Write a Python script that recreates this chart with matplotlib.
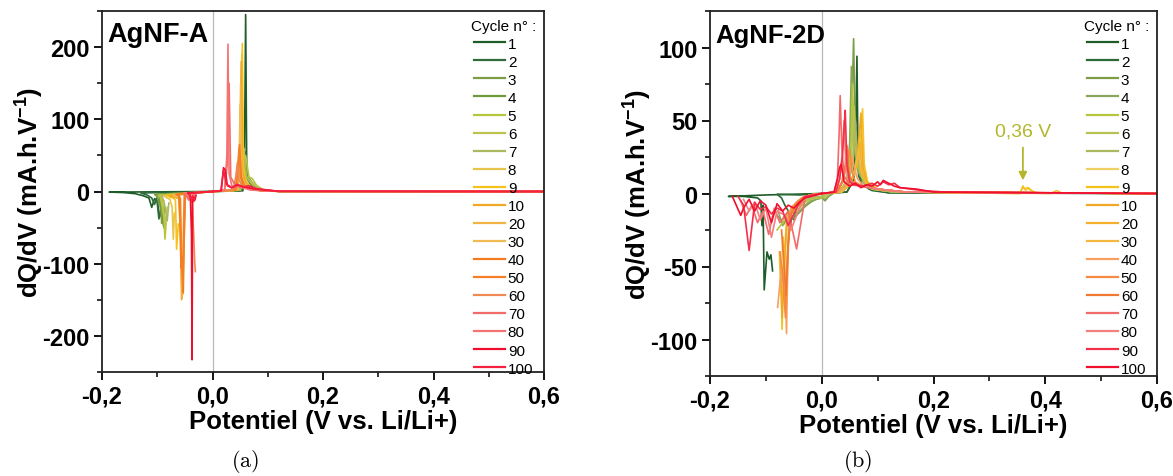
import numpy as np
import matplotlib
matplotlib.use('Agg')
import matplotlib.pyplot as plt
from matplotlib.ticker import MultipleLocator

plt.rcParams['font.family'] = ['Liberation Sans', 'DejaVu Sans']
plt.rcParams['font.weight'] = 'bold'
plt.rcParams['mathtext.fontset'] = 'custom'
plt.rcParams['mathtext.rm'] = 'Liberation Sans:bold'
plt.rcParams['mathtext.bf'] = 'Liberation Sans:bold'

# ---------------- data ----------------
cycles = [1, 2, 3, 4, 5, 6, 7, 8, 9, 10, 20, 30, 40, 50, 60, 70, 80, 90, 100]

colors_a = ['#1e5c2a', '#2f6b3b', '#7d9d45', '#6f9a3a', '#b6c63c', '#bcc44e', '#aab960',
            '#e9c44c', '#f3c31c', '#f1a825', '#f2b347', '#f0bb55', '#f47a20', '#f57f28',
            '#f08a55', '#f36a6a', '#f47474', '#f10d2e', '#f4223f']
colors_b = ['#1e5c2a', '#2a6a38', '#7d9d45', '#8aa85c', '#b6c63c', '#b8c250', '#aab960',
            '#f0d060', '#f3c31c', '#f1a825', '#f3b02a', '#f2b840', '#f7a060', '#f58a40',
            '#f07830', '#f36a6a', '#f47f7f', '#f3304a', '#f0102e']

# Panel (a) AgNF-A : discharge (negative) branches
a_dis_x = [
    [0.0, -0.10, -0.187, -0.16, -0.14, -0.125, -0.115, -0.110, -0.105, -0.100, -0.096, -0.093, -0.090, -0.087],
    [0.0, -0.05, -0.13, -0.118, -0.11, -0.105, -0.101, -0.097, -0.094, -0.09],
    [0.0, -0.05, -0.105, -0.100, -0.097, -0.094, -0.092, -0.090, -0.088],
    [0.0, -0.05, -0.100, -0.097, -0.094, -0.091, -0.089, -0.087],
    [0.0, -0.05, -0.098, -0.094, -0.091, -0.088, -0.086, -0.084],
    [0.0, -0.05, -0.095, -0.091, -0.088, -0.085, -0.082],
    [0.0, -0.05, -0.092, -0.088, -0.085, -0.082, -0.079],
    [0.0, -0.04, -0.088, -0.082, -0.077, -0.073, -0.071, -0.069],
    [0.0, -0.04, -0.083, -0.077, -0.071, -0.067, -0.065, -0.062],
    [0.0, -0.03, -0.078, -0.068, -0.061, -0.058, -0.056, -0.054, -0.052, -0.050],
    [0.0, -0.03, -0.072, -0.064, -0.059, -0.057, -0.055, -0.052, -0.049],
    [0.0, -0.03, -0.070, -0.061, -0.058, -0.055, -0.053, -0.050],
    [0.0, -0.03, -0.066, -0.061, -0.059, -0.057, -0.055, -0.053, -0.051],
    [0.0, -0.03, -0.062, -0.058, -0.056, -0.054, -0.051, -0.049],
    [0.0, -0.02, -0.050, -0.045, -0.040, -0.037, -0.034, -0.032, -0.031],
    [0.0, -0.02, -0.050, -0.046, -0.043, -0.040, -0.038, -0.035],
    [0.0, -0.02, -0.048, -0.044, -0.041, -0.039, -0.036, -0.033],
    [0.0, -0.02, -0.045, -0.042, -0.040, -0.038, -0.037, -0.036, -0.034, -0.032, -0.030],
    [0.0, -0.02, -0.042, -0.039, -0.036, -0.034, -0.032, -0.030],
]
a_dis_y = [
    [0, -0.5, -0.8, -1.5, -3, -6, -9, -22, -10, -12, -36, -28, -32, -37],
    [0, -1, -2, -5, -9, -18, -9, -38, -26, -34],
    [0, -2, -4, -7, -16, -11, -44, -30, -50],
    [0, -2, -4, -6, -26, -12, -47, -22],
    [0, -3, -5, -9, -22, -36, -66, -44],
    [0, -3, -5, -11, -30, -46, -22],
    [0, -3, -6, -13, -26, -41, -16],
    [0, -3, -6, -9, -11, -22, -66, -30],
    [0, -3, -5, -8, -9, -12, -80, -45],
    [0, -2, -6, -8, -10, -60, -150, -100, -30, -5],
    [0, -2, -5, -7, -10, -80, -148, -60, -3],
    [0, -2, -5, -8, -40, -120, -142, -4],
    [0, -2, -4, -6, -30, -106, -90, -140, -3],
    [0, -2, -3, -10, -100, -130, -60, -2],
    [0, -1, -2, -5, -8, -10, -60, -100, -111],
    [0, -1, -3, -8, -12, -8, -15, -5],
    [0, -1, -3, -7, -11, -6, -13, -4],
    [0, -1, -2, -4, -8, -60, -233, -10, -8, -12, -6],
    [0, -1, -3, -10, -6, -14, -8, -5],
]
# Panel (a) charge (positive) branches
a_chg_x = [
    [0.0, 0.055, 0.058, 0.060, 0.062, 0.065, 0.075, 0.09, 0.12, 0.6],
    [0.0, 0.050, 0.057, 0.060, 0.063, 0.070, 0.085, 0.12, 0.6],
    [0.0, 0.050, 0.056, 0.059, 0.062, 0.070, 0.090, 0.12, 0.6],
    [0.0, 0.052, 0.057, 0.060, 0.065, 0.072, 0.090, 0.12, 0.6],
    [0.0, 0.050, 0.056, 0.060, 0.066, 0.072, 0.080, 0.095, 0.12, 0.6],
    [0.0, 0.050, 0.055, 0.057, 0.060, 0.068, 0.078, 0.095, 0.12, 0.6],
    [0.0, 0.050, 0.055, 0.058, 0.061, 0.068, 0.076, 0.095, 0.12, 0.6],
    [0.0, 0.045, 0.050, 0.053, 0.055, 0.060, 0.070, 0.090, 0.12, 0.6],
    [0.0, 0.046, 0.051, 0.054, 0.056, 0.060, 0.070, 0.090, 0.12, 0.6],
    [0.0, 0.045, 0.050, 0.052, 0.054, 0.060, 0.070, 0.090, 0.12, 0.6],
    [0.0, 0.044, 0.049, 0.051, 0.053, 0.058, 0.068, 0.090, 0.12, 0.6],
    [0.0, 0.043, 0.048, 0.050, 0.052, 0.058, 0.068, 0.090, 0.12, 0.6],
    [0.0, 0.042, 0.046, 0.049, 0.052, 0.058, 0.068, 0.090, 0.12, 0.6],
    [0.0, 0.040, 0.045, 0.048, 0.051, 0.057, 0.066, 0.090, 0.12, 0.6],
    [0.0, 0.038, 0.042, 0.045, 0.048, 0.055, 0.065, 0.090, 0.12, 0.6],
    [0.0, 0.022, 0.027, 0.030, 0.033, 0.040, 0.055, 0.075, 0.12, 0.6],
    [0.0, 0.022, 0.026, 0.028, 0.030, 0.035, 0.050, 0.070, 0.12, 0.6],
    [0.0, 0.016, 0.020, 0.023, 0.027, 0.035, 0.045, 0.060, 0.080, 0.12, 0.6],
    [0.0, 0.015, 0.020, 0.025, 0.030, 0.035, 0.045, 0.055, 0.065, 0.080, 0.12, 0.6],
]
a_chg_y = [
    [0, 1, 60, 245, 25, 15, 4, 1, 0.3, 0],
    [0, 1, 20, 55, 20, 8, 2, 0.3, 0],
    [0, 2, 30, 45, 18, 10, 2, 0.3, 0],
    [0, 2, 25, 40, 20, 12, 2, 0.3, 0],
    [0, 2, 30, 50, 20, 18, 8, 1, 0.3, 0],
    [0, 2, 30, 60, 22, 15, 8, 1, 0.3, 0],
    [0, 2, 25, 45, 20, 14, 6, 1, 0.3, 0],
    [0, 2, 40, 190, 30, 15, 5, 1, 0.3, 0],
    [0, 2, 50, 205, 35, 15, 5, 1, 0.3, 0],
    [0, 2, 45, 180, 30, 12, 5, 1, 0.3, 0],
    [0, 2, 40, 150, 25, 10, 4, 1, 0.3, 0],
    [0, 2, 35, 120, 20, 10, 4, 1, 0.3, 0],
    [0, 2, 30, 65, 20, 8, 4, 1, 0.3, 0],
    [0, 2, 25, 60, 18, 8, 4, 1, 0.3, 0],
    [0, 2, 20, 40, 15, 8, 3, 1, 0.3, 0],
    [0, 2, 40, 150, 20, 10, 6, 2, 0.3, 0],
    [0, 2, 50, 204, 25, 8, 6, 2, 0.3, 0],
    [0, 1, 33, 30, 8, 5, 9, 6, 3, 0.3, 0],
    [0, 1, 30, 10, 8, 5, 10, 6, 8, 4, 0.3, 0],
]

# Panel (b) AgNF-2D : discharge branches
b_dis_x = [
    [0.0, -0.10, -0.167, -0.14, -0.115, -0.109, -0.107, -0.105, -0.103, -0.098, -0.094, -0.091, -0.088],
    [0.0, -0.04, -0.080, -0.072, -0.066, -0.060, -0.057, -0.054, -0.050, -0.045],
    [0.02, 0.012, 0.006, 0.0, -0.01, -0.02, -0.03, -0.04, -0.05, -0.06, -0.07, -0.08],
    [0.02, 0.012, 0.006, 0.0, -0.01, -0.02, -0.03, -0.04, -0.05, -0.06, -0.07, -0.078],
    [0.015, 0.008, 0.0, -0.01, -0.02, -0.03, -0.04, -0.05, -0.06, -0.07, -0.08],
    [0.015, 0.008, 0.0, -0.01, -0.02, -0.03, -0.04, -0.05, -0.06, -0.07],
    [0.01, 0.0, -0.01, -0.02, -0.03, -0.04, -0.05, -0.06, -0.068],
    [0.0, -0.02, -0.035, -0.045, -0.055, -0.062, -0.066, -0.070, -0.073, -0.076],
    [0.0, -0.02, -0.035, -0.045, -0.055, -0.063, -0.068, -0.071, -0.073, -0.075],
    [0.0, -0.02, -0.035, -0.045, -0.055, -0.062, -0.065, -0.068, -0.071, -0.074],
    [0.0, -0.02, -0.035, -0.045, -0.052, -0.058, -0.061, -0.064, -0.067, -0.070],
    [0.0, -0.02, -0.035, -0.045, -0.052, -0.058, -0.062, -0.066, -0.069],
    [0.0, -0.02, -0.035, -0.045, -0.055, -0.060, -0.063, -0.066, -0.072, -0.079],
    [0.0, -0.02, -0.035, -0.045, -0.055, -0.061, -0.065, -0.070, -0.075],
    [0.0, -0.02, -0.035, -0.045, -0.055, -0.060, -0.064, -0.068, -0.072],
    [0.0, -0.03, -0.045, -0.06, -0.075, -0.085, -0.095, -0.105, -0.115, -0.125, -0.135, -0.145],
    [0.0, -0.03, -0.04, -0.055, -0.065, -0.08, -0.09, -0.10, -0.11, -0.12, -0.13, -0.14],
    [0.0, -0.03, -0.042, -0.05, -0.06, -0.07, -0.08, -0.09, -0.10, -0.11, -0.12, -0.13, -0.14, -0.15],
    [0.0, -0.03, -0.04, -0.05, -0.06, -0.07, -0.08, -0.09, -0.10, -0.11, -0.12, -0.13, -0.14, -0.145, -0.16],
]
b_dis_y = [
    [0, -1, -2, -2, -3, -5, -22, -8, -66, -40, -45, -42, -53],
    [0, -1, -0.5, -3, -8, -12, -25, -16, -18, -10],
    [0, -2, -5, -3, -4, -6, -9, -13, -17, -18, -20, -15],
    [0, -2, -4, -3, -4, -5, -8, -12, -15, -17, -22, -12],
    [0, -2, -3, -3, -4, -6, -10, -13, -15, -20, -25],
    [0, -2, -2, -3, -4, -5, -8, -11, -14, -18],
    [0, -2, -2, -3, -4, -7, -10, -13, -16],
    [0, -1, -4, -8, -12, -20, -45, -30, -70, -40],
    [0, -1, -3, -6, -10, -18, -50, -93, -60, -40],
    [0, -1, -3, -7, -11, -20, -35, -60, -85, -45],
    [0, -1, -3, -6, -9, -20, -50, -80, -40, -60],
    [0, -1, -3, -6, -10, -18, -45, -70, -30],
    [0, -1, -3, -6, -10, -30, -96, -60, -50, -78],
    [0, -1, -3, -6, -12, -40, -85, -55, -40],
    [0, -1, -3, -8, -14, -35, -70, -45, -25],
    [0, -3, -38, -12, -20, -10, -28, -12, -20, -8, -15, -5],
    [0, -2, -10, -25, -15, -12, -30, -10, -18, -6, -12, -4],
    [0, -2, -8, -14, -22, -12, -10, -14, -9, -11, -6, -39, -8, -2],
    [0, -3, -6, -10, -8, -12, -7, -20, -8, -5, -12, -4, -10, -15, -2],
]
# Panel (b) charge branches
b_chg_x = [
    [0.0, 0.045, 0.058, 0.061, 0.063, 0.065, 0.070, 0.085, 0.12, 0.6],
    [0.0, 0.045, 0.055, 0.060, 0.062, 0.066, 0.072, 0.09, 0.12, 0.6],
    [0.0, 0.030, 0.045, 0.052, 0.055, 0.057, 0.060, 0.065, 0.075, 0.09, 0.13, 0.6],
    [0.0, 0.030, 0.045, 0.050, 0.053, 0.055, 0.058, 0.065, 0.075, 0.09, 0.13, 0.6],
    [0.0, 0.030, 0.045, 0.052, 0.055, 0.058, 0.065, 0.075, 0.09, 0.13, 0.6],
    [0.0, 0.030, 0.045, 0.053, 0.058, 0.062, 0.068, 0.078, 0.09, 0.13, 0.6],
    [0.0, 0.030, 0.047, 0.055, 0.060, 0.064, 0.070, 0.080, 0.10, 0.13, 0.6],
    [0.0, 0.035, 0.050, 0.060, 0.066, 0.070, 0.074, 0.080, 0.10, 0.15, 0.355, 0.36, 0.365, 0.37, 0.38, 0.6],
    [0.0, 0.035, 0.050, 0.060, 0.068, 0.071, 0.073, 0.076, 0.082, 0.10, 0.15, 0.355, 0.36, 0.363, 0.368, 0.375, 0.385, 0.6],
    [0.0, 0.035, 0.050, 0.060, 0.066, 0.070, 0.074, 0.080, 0.10, 0.15, 0.6],
    [0.0, 0.035, 0.050, 0.058, 0.064, 0.068, 0.072, 0.080, 0.10, 0.15, 0.6],
    [0.0, 0.035, 0.048, 0.056, 0.062, 0.066, 0.070, 0.080, 0.10, 0.15, 0.41, 0.42, 0.43, 0.6],
    [0.0, 0.030, 0.042, 0.050, 0.055, 0.058, 0.064, 0.075, 0.10, 0.15, 0.6],
    [0.0, 0.028, 0.038, 0.045, 0.050, 0.054, 0.060, 0.072, 0.10, 0.15, 0.6],
    [0.0, 0.026, 0.036, 0.042, 0.045, 0.049, 0.056, 0.070, 0.10, 0.15, 0.6],
    [0.0, 0.022, 0.028, 0.031, 0.033, 0.036, 0.040, 0.050, 0.070, 0.10, 0.15, 0.6],
    [0.0, 0.025, 0.032, 0.036, 0.040, 0.043, 0.048, 0.060, 0.080, 0.10, 0.15, 0.6],
    [0.0, 0.025, 0.032, 0.037, 0.040, 0.042, 0.045, 0.050, 0.060, 0.075, 0.090, 0.10, 0.11, 0.12, 0.13, 0.14, 0.16, 0.18, 0.22, 0.6],
    [0.0, 0.022, 0.028, 0.032, 0.035, 0.040, 0.050, 0.060, 0.070, 0.080, 0.090, 0.10, 0.105, 0.11, 0.12, 0.13, 0.14, 0.17, 0.20, 0.6],
]
b_chg_y = [
    [0, 1, 10, 50, 94, 20, 10, 3, 0.5, 0],
    [0, 1, 8, 30, 45, 12, 6, 2, 0.5, 0],
    [0, 1, 8, 40, 75, 106, 40, 20, 8, 3, 1, 0],
    [0, 1, 8, 35, 87, 60, 30, 15, 8, 3, 1, 0],
    [0, 1, 8, 30, 75, 35, 18, 8, 3, 1, 0],
    [0, 1, 7, 25, 60, 30, 15, 7, 3, 1, 0],
    [0, 1, 6, 20, 50, 25, 14, 6, 3, 1, 0],
    [0, 1, 6, 15, 30, 35, 15, 6, 3, 1, 0, 5, 2, 4, 0.5, 0],
    [0, 1, 6, 15, 30, 45, 58, 20, 8, 3, 1, 0, 5, 3, 4, 2, 0.5, 0],
    [0, 1, 6, 15, 35, 55, 18, 8, 3, 1, 0],
    [0, 1, 6, 15, 25, 35, 15, 7, 3, 1, 0],
    [0, 1, 6, 12, 22, 30, 15, 6, 3, 1, 0, 2, 0.3, 0],
    [0, 1, 6, 15, 25, 18, 10, 5, 3, 1, 0],
    [0, 1, 8, 20, 30, 15, 8, 5, 3, 1, 0],
    [0, 1, 8, 20, 33, 12, 8, 5, 3, 1, 0],
    [0, 1, 10, 40, 67, 30, 12, 6, 5, 3, 1, 0],
    [0, 1, 10, 25, 50, 20, 10, 6, 5, 3, 1, 0],
    [0, 1, 10, 25, 45, 57, 20, 8, 6, 5, 7, 5, 8, 6, 7, 4, 3, 2, 1, 0],
    [0, 1, 10, 18, 20, 8, 5, 7, 4, 6, 5, 8, 6, 9, 7, 5, 4, 3, 1, 0],
]

x_ticks = [-0.2, 0.0, 0.2, 0.4, 0.6]
x_ticklabels = ['-0,2', '0,0', '0,2', '0,4', '0,6']
a_yticks = [-200, -100, 0, 100, 200]
b_yticks = [-100, -50, 0, 50, 100]

# ---------------- figure ----------------
W, H = 1173, 477
fig = plt.figure(figsize=(W / 100, H / 100), dpi=100)
axA = fig.add_axes([102 / W, 1 - 373 / H, (544 - 102) / W, (373 - 12) / H])
axB = fig.add_axes([710 / W, 1 - 377 / H, (1157 - 710) / W, (377 - 12) / H])


def style(ax, ylim, yticks, yminor, title, tsize, ty):
    ax.axvline(0, color='#b8b8b8', lw=0.9, zorder=0)
    ax.set_xlim(-0.2, 0.6)
    ax.set_ylim(*ylim)
    ax.set_xticks(x_ticks)
    ax.set_xticklabels(x_ticklabels)
    ax.xaxis.set_minor_locator(MultipleLocator(0.1))
    ax.set_yticks(yticks)
    ax.set_yticklabels([str(v) for v in yticks])
    ax.yaxis.set_minor_locator(MultipleLocator(yminor))
    ax.tick_params(which='major', direction='out', length=6, width=1.3, labelsize=17, pad=3)
    ax.tick_params(which='minor', direction='out', length=3.5, width=1.1)
    for s in ax.spines.values():
        s.set_linewidth(1.3)
        s.set_color('#222222')
    ax.set_xlabel('Potentiel (V vs. Li/Li+)', fontsize=18.5, fontweight='bold', labelpad=1)
    ax.set_ylabel(r'dQ/dV (mA.h.V$^{\mathbf{-1}}$)', fontsize=18.5, fontweight='bold', labelpad=-2)
    ax.text(0.012, ty, title, transform=ax.transAxes, fontsize=tsize, fontweight='bold',
            va='top', ha='left')


def draw(ax, dx, dy, cx, cy, colors):
    for i, c in enumerate(cycles):
        x = list(dx[i]) + [np.nan] + list(cx[i])
        y = list(dy[i]) + [np.nan] + list(cy[i])
        ax.plot(x, y, color=colors[i], lw=1.2, label=str(c))
    leg = ax.legend(title='Cycle n° :', loc='upper right', frameon=False,
                    prop={'size': 11, 'weight': 'normal'},
                    title_fontproperties={'size': 11, 'weight': 'normal'},
                    handlelength=2.0, handletextpad=0.2, labelspacing=0.265,
                    borderaxespad=0.3, borderpad=0.2)
    for ln in leg.get_lines():
        ln.set_linewidth(1.6)


draw(axA, a_dis_x, a_dis_y, a_chg_x, a_chg_y, colors_a)
style(axA, (-250, 250), a_yticks, 50, 'AgNF-A', 19.5, 0.972)
draw(axB, b_dis_x, b_dis_y, b_chg_x, b_chg_y, colors_b)
style(axB, (-125, 125), b_yticks, 25, 'AgNF-2D', 18.5, 0.966)

ann_c = '#b4b62c'
axB.annotate('0,36 V', xy=(0.36, 9), xytext=(0.36, 43), ha='center', va='center',
             fontsize=14, fontweight='normal', color=ann_c,
             arrowprops=dict(arrowstyle='-|>', color=ann_c, lw=1.3, shrinkA=4, shrinkB=0,
                             mutation_scale=12))

fig.text(245 / W, 1 - 462 / H, r'$\mathrm{(a)}$', math_fontfamily='cm', fontsize=16,
         ha='center', va='center')
fig.text(858 / W, 1 - 462 / H, r'$\mathrm{(b)}$', math_fontfamily='cm', fontsize=16,
         ha='center', va='center')

fig.savefig('out.png', dpi=100)
